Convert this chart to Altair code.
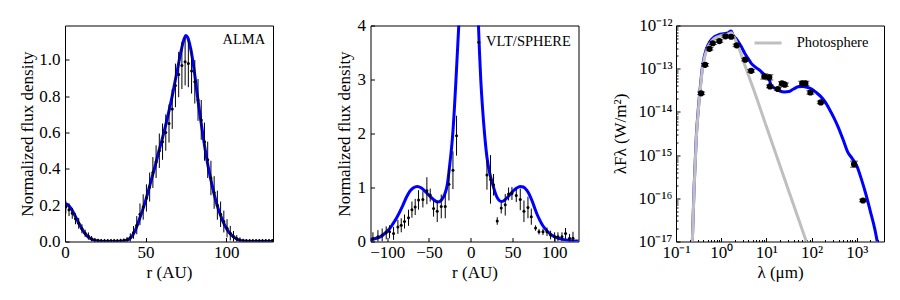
import altair as alt
import numpy as np
import pandas as pd

FONT = "Liberation Serif"
BLUE = "#0000ff"
GRAY = "#bfbfbf"
FS = 17
LFS = 14.5
W, H = 208, 216

# ---------------- Panel 1 : ALMA radial profile ----------------
alma_model_r = [0, 2, 4, 6, 8, 10, 12, 14, 16, 18, 20, 22, 24, 28, 32, 34, 36, 38, 40, 42,
                44, 46, 48, 50, 52, 54, 56, 58, 60, 62, 64, 66, 68, 70, 72, 74, 75, 76, 78, 80,
                82, 84, 86, 88, 90, 92, 94, 96, 98, 100, 102, 104, 106, 108, 110, 112, 116, 122, 130]
alma_model_v = [0.21, 0.20, 0.178, 0.146, 0.11, 0.077, 0.049, 0.028, 0.015, 0.007,
                0.003, 0.001, 0, 0, 0, 0, 0.002, 0.006, 0.015, 0.035,
                0.07, 0.12, 0.17, 0.225, 0.29, 0.355, 0.42, 0.49, 0.555, 0.625,
                0.70, 0.78, 0.87, 0.96, 1.05, 1.12, 1.135, 1.125, 1.06, 0.95,
                0.81, 0.68, 0.56, 0.45, 0.36, 0.28, 0.21, 0.155, 0.11, 0.075,
                0.048, 0.03, 0.017, 0.008, 0.003, 0.001, 0, 0, 0]

alma_r = [0.5, 2.5, 4.5, 6.5, 8.5, 10.5, 12.5, 14.5, 16.5, 18.5,
          20.5, 22.5, 24.5, 26.5, 28.5, 30.5, 32.5, 34.5, 36.5, 38.5,
          40.5, 42.5, 44.5, 46.5, 48.5, 50.5, 52.5, 54.5, 56.5, 58.5,
          60.5, 62.5, 64.5, 66.5, 68.5, 70.5, 72.5, 74.5, 76.5, 78.5,
          80.5, 82.5, 84.5, 86.5, 88.5, 90.5, 92.5, 94.5, 96.5, 98.5,
          100.5, 102.5, 104.5, 106.5, 108.5, 110.5, 112.5, 114.5, 116.5, 118.5,
          120.5, 122.5, 124.5, 126.5, 128.5]
alma_v = [0.19, 0.175, 0.155, 0.125, 0.10, 0.07, 0.045, 0.03, 0.015, 0.008,
          0.005, 0.004, 0.004, 0.004, 0.004, 0.004, 0.004, 0.005, 0.007, 0.01,
          0.02, 0.05, 0.09, 0.15, 0.19, 0.24, 0.30, 0.38, 0.44, 0.50,
          0.55, 0.60, 0.65, 0.73, 0.86, 0.92, 0.97, 0.99, 0.98, 0.94,
          0.88, 0.78, 0.67, 0.55, 0.45, 0.35, 0.27, 0.20, 0.15, 0.11,
          0.073, 0.046, 0.028, 0.015, 0.008, 0.005, 0.004, 0.004, 0.004, 0.004,
          0.004, 0.004, 0.004, 0.004, 0.004]
alma_err = [0.035, 0.035, 0.03, 0.03, 0.03, 0.025, 0.02, 0.02, 0.015, 0.012,
            0.01, 0.01, 0.01, 0.01, 0.01, 0.01, 0.01, 0.01, 0.01, 0.015,
            0.025, 0.035, 0.05, 0.06, 0.07, 0.075, 0.08, 0.085, 0.09, 0.095,
            0.1, 0.1, 0.105, 0.11, 0.12, 0.125, 0.13, 0.13, 0.13, 0.125,
            0.12, 0.115, 0.11, 0.105, 0.1, 0.095, 0.09, 0.08, 0.07, 0.06,
            0.05, 0.04, 0.03, 0.02, 0.015, 0.01, 0.01, 0.01, 0.01, 0.01,
            0.01, 0.01, 0.01, 0.01, 0.01]

# ---------------- Panel 2 : VLT/SPHERE profile ----------------
sphere_model_r = [-122, -118, -113, -109, -105, -101, -97, -93, -89, -85,
                  -81, -77, -73, -69, -64, -59, -54, -49, -44, -39.5,
                  -35, -31.5, -28, -26, -24, -22, -20, -18, -16, -14,
                  -12, -8, -4, 0, 4, 7, 9, 10.5, 12, 14,
                  16.5, 19.5, 22.5, 26.5, 30, 33, 36.5, 40, 43, 47,
                  51, 55, 59, 63, 67, 70.5, 73.5, 76.5, 79.5, 82.5,
                  86, 90, 95, 100, 105, 110, 118, 126, 131]
sphere_model_v = [0.03, 0.04, 0.06, 0.08, 0.12, 0.18, 0.24, 0.33, 0.43, 0.55,
                  0.68, 0.82, 0.93, 0.99, 1.02, 0.99, 0.92, 0.84, 0.77, 0.73,
                  0.77, 0.86, 1.06, 1.30, 1.58, 1.90, 2.35, 2.9, 3.5, 4.1,
                  4.8, 6.5, 8, 8, 6.5, 5.0, 4.1, 3.5, 3.0, 2.5,
                  2.0, 1.55, 1.28, 1.05, 0.87, 0.78, 0.74, 0.76, 0.80, 0.87,
                  0.94, 0.99, 1.02, 1.01, 0.95, 0.86, 0.75, 0.62, 0.50, 0.40,
                  0.30, 0.22, 0.14, 0.09, 0.06, 0.04, 0.02, 0.01, 0.01]

sphere_r = [-117.1, -111.1, -106, -101.2, -97.2, -92.4, -87.2, -83.2, -79.3, -74.5,
            -70.4, -66.5, -62.5, -57.3, -52.5, -48.5, -44.5, -40.1, -35.3, -30.5,
            -26.1, -21.3, -17,
            19.4, 23.7, 27.3, 31.7, 36.5, 41.3, 45.3, 49.3, 54.5, 59.3,
            63.7, 68.5, 72.5, 77.6, 81.7, 86.5, 91.3, 95.6, 100.4, 104.4,
            109.2, 113.5, 118.3, 122.4]
sphere_v = [0.05, 0.09, 0.12, 0.16, 0.18, 0.15, 0.27, 0.30, 0.37, 0.44,
            0.59, 0.64, 0.77, 0.78, 0.94, 0.86, 0.61, 0.56, 0.65, 0.65,
            1.06, 1.32, 1.96,
            1.23, 1.15, 1.05, 0.38, 0.62, 0.68, 0.88, 0.89, 0.85, 0.78,
            0.56, 0.63, 0.46, 0.25, 0.18, 0.18, 0.18, 0.12, 0.09, 0.09,
            0.09, 0.15, 0.06, 0.06]
sphere_err = [0.12, 0.12, 0.12, 0.12, 0.12, 0.12, 0.13, 0.13, 0.13, 0.15,
              0.15, 0.15, 0.18, 0.15, 0.25, 0.12, 0.15, 0.2, 0.22, 0.22,
              0.3, 0.35, 0.37,
              0.27, 0.45, 0.2, 0.07, 0.1, 0.2, 0.12, 0.12, 0.12, 0.2,
              0.2, 0.2, 0.15, 0.05, 0.05, 0.06, 0.08, 0.08, 0.08, 0.08,
              0.08, 0.1, 0.08, 0.12]

# ---------------- Panel 3 : SED (log10 readings) ----------------
model_loglam = [-0.645, -0.6, -0.55, -0.5, -0.46, -0.42, -0.38, -0.33, -0.25, -0.15,
                -0.05, 0.05, 0.15, 0.22, 0.26, 0.35, 0.45, 0.52, 0.6, 0.66,
                0.75, 0.88, 0.96, 1.03, 1.07, 1.1, 1.2, 1.3, 1.4, 1.5,
                1.6, 1.7, 1.8, 1.9, 2.0, 2.1, 2.2, 2.3, 2.4, 2.5,
                2.6, 2.7, 2.8, 2.9, 3.0, 3.1, 3.2, 3.3, 3.4, 3.47]
model_logF = [-17.2, -15.75, -14.55, -13.85, -13.4, -13.0, -12.75, -12.55, -12.37, -12.26,
              -12.21, -12.19, -12.17, -12.13, -12.22, -12.33, -12.5, -12.64, -12.77, -12.87,
              -12.96, -13.06, -13.14, -13.22, -13.27, -13.38, -13.46, -13.52, -13.54, -13.53,
              -13.47, -13.42, -13.41, -13.43, -13.47, -13.55, -13.64, -13.77, -13.95, -14.15,
              -14.38, -14.65, -14.93, -15.08, -15.25, -15.55, -15.9, -16.3, -16.72, -17.1]

phot_loglam = [-0.645, -0.6, -0.55, -0.5, -0.46, -0.42, -0.38, -0.33, -0.25, -0.15,
               -0.05, 0.05, 0.15, 0.22, 0.3, 0.4, 0.5, 0.58, 0.63, 0.68, 1.0, 1.5, 1.9]
phot_logF = [-17.2, -15.8, -14.6, -13.9, -13.45, -13.05, -12.8, -12.6, -12.42, -12.3,
             -12.25, -12.22, -12.2, -12.17, -12.3, -12.55, -12.85, -13.08, -13.23, -13.37,
             -14.34, -15.85, -17.05]

sed_lam = [0.36, 0.44, 0.55, 0.65, 0.91, 1.24, 1.66, 2.2, 3.4, 4.6,
           9.0, 11.6, 12.0, 17.9, 22.1, 25.5, 62, 73, 94, 160, 870, 1370]
sed_logF = [-13.57, -12.91, -12.54, -12.41, -12.36, -12.25, -12.26, -12.46, -12.79, -13.05,
            -13.18, -13.2, -13.41, -13.47, -13.34, -13.37, -13.34, -13.34, -13.55, -13.78,
            -15.21, -16.05]
sed_err_dex = [0.03, 0.03, 0.03, 0.03, 0.03, 0.03, 0.03, 0.03, 0.03, 0.03,
               0.06, 0.06, 0.03, 0.03, 0.04, 0.04, 0.05, 0.05, 0.04, 0.03,
               0.07, 0.03]

# ---------------- tables ----------------
df1m = pd.DataFrame({"r": alma_model_r, "v": alma_model_v})
df1p = pd.DataFrame({"r": alma_r, "v": alma_v, "e": alma_err})
df1p["lo"] = df1p.v - df1p.e
df1p["hi"] = df1p.v + df1p.e
df1p["src"] = "ALMA"

df2m = pd.DataFrame({"r": sphere_model_r, "v": sphere_model_v})
df2p = pd.DataFrame({"r": sphere_r, "v": sphere_v, "e": sphere_err})
df2p["lo"] = df2p.v - df2p.e
df2p["hi"] = df2p.v + df2p.e
df2p["src"] = "VLT/SPHERE"

df3m = pd.DataFrame({"lam": 10 ** np.array(model_loglam), "F": 10 ** np.array(model_logF)})
df3s = pd.DataFrame({"lam": 10 ** np.array(phot_loglam), "F": 10 ** np.array(phot_logF),
                     "lab": "Photosphere"})
lf = np.array(sed_logF)
ed = np.array(sed_err_dex)
df3p = pd.DataFrame({"lam": sed_lam, "F": 10 ** lf, "lo": 10 ** (lf - ed), "hi": 10 ** (lf + ed)})


# ---------------- axis helpers ----------------
def lab_axis(orient, title, values, extent, label_pad, title_pad, fmt=None, label_expr=None):
    kw = dict(orient=orient, title=title, values=values, ticks=False, tickSize=0,
              domain=False, grid=False, labelPadding=label_pad, titlePadding=title_pad,
              minExtent=extent, maxExtent=extent, labelFlush=False, labelOverlap=False,
              labelFont=FONT, titleFont=FONT, labelFontSize=FS, titleFontSize=FS,
              titleFontWeight="normal", labelColor="black", titleColor="black",
              style=["serif-guide"])
    if fmt is not None:
        kw["format"] = fmt
    if label_expr is not None:
        kw["labelExpr"] = label_expr
    return alt.Axis(**kw)


def tick_axis(orient, values, size):
    return alt.Axis(orient=orient, title=None, values=values, labels=False, domain=False,
                    grid=False, ticks=True, tickSize=size, offset=-size, tickColor="black",
                    tickWidth=1, minExtent=0, maxExtent=0)


def legend(x, y, **kw):
    return alt.Legend(title=None, orient="none", legendX=x, legendY=y, padding=0,
                      labelFont=FONT, labelFontSize=LFS, labelColor="black", **kw)


# ---------------- panel 1 ----------------
xs1 = alt.Scale(domain=[0, 129], nice=False, zero=False)
ys1 = alt.Scale(domain=[0, 1.19], nice=False, zero=False)
x1_vals = [0, 50, 100]
y1_vals = [0, 0.2, 0.4, 0.6, 0.8, 1.0]

l1 = alt.Chart(df1m).mark_line(color=BLUE, strokeWidth=3, clip=True, interpolate="monotone").encode(
    x=alt.X("r:Q", scale=xs1, axis=lab_axis("bottom", "r (AU)", x1_vals, 20, 3, 3.3, fmt="d")),
    y=alt.Y("v:Q", scale=ys1, axis=lab_axis("left", "Normalized flux density", y1_vals, 27, 5, 1.5, fmt=".1f")),
)
e1 = alt.Chart(df1p).mark_rule(color="black", strokeWidth=1, clip=True).encode(
    x=alt.X("r:Q", scale=xs1, axis=tick_axis("bottom", x1_vals, 4)),
    y=alt.Y("lo:Q", scale=ys1, axis=tick_axis("left", y1_vals, 4)),
    y2="hi:Q",
)
p1 = alt.Chart(df1p).mark_circle(size=9, opacity=1, clip=True).encode(
    x=alt.X("r:Q", scale=xs1, axis=None),
    y=alt.Y("v:Q", scale=ys1, axis=None),
    color=alt.Color("src:N", scale=alt.Scale(domain=["ALMA"], range=["black"]),
                    legend=legend(141, 7, symbolOpacity=0, symbolSize=4, labelOffset=2)),
)
panel1 = alt.layer(l1, e1, p1).resolve_axis(x="independent", y="independent").properties(width=W, height=H)

# ---------------- panel 2 ----------------
xs2 = alt.Scale(domain=[-120, 129], nice=False, zero=False)
ys2 = alt.Scale(domain=[0, 4], nice=False, zero=False)
x2_vals = [-100, -50, 0, 50, 100]
y2_vals = [0, 1, 2, 3, 4]

l2 = alt.Chart(df2m).mark_line(color=BLUE, strokeWidth=3, clip=True, interpolate="monotone").encode(
    x=alt.X("r:Q", scale=xs2, axis=lab_axis("bottom", "r (AU)", x2_vals, 20, 3, 3.3, fmt="d")),
    y=alt.Y("v:Q", scale=ys2, axis=lab_axis("left", "Normalized flux density", y2_vals, 13.5, 5, 4, fmt="d")),
)
e2 = alt.Chart(df2p).mark_rule(color="black", strokeWidth=1, clip=True).encode(
    x=alt.X("r:Q", scale=xs2, axis=tick_axis("bottom", x2_vals, 4)),
    y=alt.Y("lo:Q", scale=ys2, axis=tick_axis("left", y2_vals, 4)),
    y2="hi:Q",
)
p2 = alt.Chart(df2p).mark_circle(size=9, opacity=1, clip=True).encode(
    x=alt.X("r:Q", scale=xs2, axis=None),
    y=alt.Y("v:Q", scale=ys2, axis=None),
    color=alt.Color("src:N", scale=alt.Scale(domain=["VLT/SPHERE"], range=["black"]),
                    legend=legend(101, 9.5, symbolType="circle", symbolSize=9, labelOffset=0)),
)
panel2 = alt.layer(l2, e2, p2).resolve_axis(x="independent", y="independent").properties(width=W, height=H)

# ---------------- panel 3 ----------------
sup = str.maketrans("-0123456789", "⁻⁰¹²³⁴⁵⁶⁷⁸⁹")
x_exps = [-1, 0, 1, 2, 3]
y_exps = [-17, -16, -15, -14, -13, -12]
x3_major = [10.0 ** e for e in x_exps]
y3_major = [10.0 ** e for e in y_exps]
x3_minor = [m * 10.0 ** e for e in x_exps for m in range(2, 10) if m * 10.0 ** e <= 4000]
y3_minor = [m * 10.0 ** e for e in y_exps[:-1] for m in range(2, 10)]


def pow_expr(exps):
    parts = []
    for e in exps[:-1]:
        parts.append(f"datum.value < {10 ** (e + 0.5):.6g} ? '10{str(e).translate(sup)}'")
    return " : ".join(parts) + f" : '10{str(exps[-1]).translate(sup)}'"


xs3 = alt.Scale(type="log", domain=[0.1, 4000], nice=False)
ys3 = alt.Scale(type="log", domain=[1e-17, 1e-12], nice=False)

l3 = alt.Chart(df3m).mark_line(color=BLUE, strokeWidth=3, clip=True, interpolate="monotone").encode(
    x=alt.X("lam:Q", scale=xs3, axis=lab_axis("bottom", "λ (μm)", x3_major, 20, 3, 3.3,
                                               label_expr=pow_expr(x_exps))),
    y=alt.Y("F:Q", scale=ys3, axis=lab_axis("left", "λFλ (W/m²)", y3_major, 42, 4, 5,
                                             label_expr=pow_expr(y_exps))),
)
g3 = alt.Chart(df3s).mark_line(strokeWidth=3, clip=True, interpolate="monotone").encode(
    x=alt.X("lam:Q", scale=xs3, axis=tick_axis("bottom", x3_major, 4)),
    y=alt.Y("F:Q", scale=ys3, axis=tick_axis("left", y3_major, 4)),
    color=alt.Color("lab:N", scale=alt.Scale(domain=["Photosphere"], range=[GRAY]),
                    legend=legend(77, 2.5, symbolType="stroke", symbolSize=729,
                                  symbolStrokeWidth=3, labelOffset=13.7)),
)
e3 = alt.Chart(df3p).mark_rule(color="black", strokeWidth=1, clip=True).encode(
    x=alt.X("lam:Q", scale=xs3, axis=tick_axis("bottom", x3_minor, 2)),
    y=alt.Y("lo:Q", scale=ys3, axis=tick_axis("left", y3_minor, 2)),
    y2="hi:Q",
)
c3lo = alt.Chart(df3p).mark_tick(color="black", orient="horizontal", size=8, thickness=1).encode(
    x=alt.X("lam:Q", scale=xs3, axis=None),
    y=alt.Y("lo:Q", scale=ys3, axis=None),
)
c3hi = alt.Chart(df3p).mark_tick(color="black", orient="horizontal", size=8, thickness=1).encode(
    x=alt.X("lam:Q", scale=xs3, axis=None),
    y=alt.Y("hi:Q", scale=ys3, axis=None),
)
p3 = alt.Chart(df3p).mark_circle(size=38, color="black", opacity=1).encode(
    x=alt.X("lam:Q", scale=xs3, axis=None),
    y=alt.Y("F:Q", scale=ys3, axis=None),
)
panel3 = alt.layer(l3, g3, e3, c3lo, c3hi, p3).resolve_axis(x="independent", y="independent").properties(
    width=W, height=H)

chart = alt.hconcat(panel1, panel2, panel3, spacing=97.5, bounds="flush").resolve_scale(
    color="independent"
).properties(
    padding={"left": 10, "top": 7.5, "right": 5, "bottom": 5}
).configure(
    font=FONT,
    style={
        "guide-label": {"font": FONT, "fontSize": FS, "fill": "black"},
        "guide-title": {"font": FONT, "fontSize": FS, "fontWeight": "normal", "fill": "black"},
        "serif-guide": {"font": FONT},
    },
).configure_view(
    stroke="black", strokeWidth=1
).configure_axis(
    labelFont=FONT, titleFont=FONT, labelFontSize=FS, titleFontSize=FS,
    titleFontWeight="normal", labelColor="black", titleColor="black", tickColor="black"
).configure_legend(
    labelFont=FONT, labelFontSize=LFS, labelColor="black"
)

chart.save("out.html", embed_options={"renderer": "svg", "actions": False})
